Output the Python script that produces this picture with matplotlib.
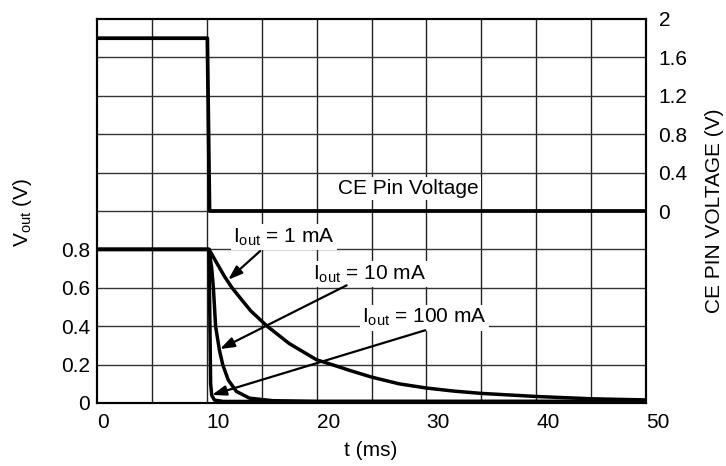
import numpy as np
import matplotlib
matplotlib.use("Agg")
import matplotlib.pyplot as plt

plt.rcParams['font.family'] = ['Liberation Sans', 'DejaVu Sans']
plt.rcParams['mathtext.default'] = 'regular'

# ---- data ----
t_1mA = [0, 10.2, 10.6, 11.0, 11.6, 12.3, 13.0, 14.0, 15.5, 17.5, 20.0, 21.4, 23.0,
         25.0, 27.5, 30.0, 32.5, 35.0, 37.5, 40.0, 45.0, 50.0]
v_1mA = [0.80, 0.80, 0.76, 0.72, 0.66, 0.60, 0.55, 0.48, 0.40, 0.31, 0.225, 0.20, 0.17,
         0.135, 0.10, 0.078, 0.062, 0.05, 0.042, 0.034, 0.022, 0.016]

t_10mA = [0, 10.2, 10.45, 10.6, 10.8, 11.15, 11.45, 11.95, 12.7, 13.9, 16.0, 20.0, 50.0]
v_10mA = [0.80, 0.80, 0.70, 0.60, 0.40, 0.275, 0.20, 0.12, 0.06, 0.025, 0.012, 0.008, 0.008]

t_100mA = [0, 10.2, 10.35, 10.45, 10.7, 11.5, 50.0]
v_100mA = [0.80, 0.80, 0.10, 0.04, 0.015, 0.008, 0.008]

t_ce = [0, 10.05, 10.25, 50.0]
v_ce = [1.8, 1.8, 0.0, 0.0]

x_ticks = [0, 10, 20, 30, 40, 50]
left_ticks = [0, 0.2, 0.4, 0.6, 0.8]
left_tick_labels = ['0', '0.2', '0.4', '0.6', '0.8']
right_ticks = [0, 0.4, 0.8, 1.2, 1.6, 2.0]
right_tick_labels = ['0', '0.4', '0.8', '1.2', '1.6', '2']

labels = ['I$_{out}$ = 1 mA', 'I$_{out}$ = 10 mA', 'I$_{out}$ = 100 mA']
label_pos = [(12.4, 0.836), (19.67, 0.644), (24.13, 0.416)]
arrow_tail = [(14.85, 0.791), (22.74, 0.613), (29.9, 0.379)]
arrow_tip = [(11.95, 0.642), (11.2, 0.281), (10.47, 0.042)]

FS = 15

fig = plt.figure(figsize=(7.26, 4.66), dpi=100)
ax = fig.add_axes([97/726, 1-403/466, (646-97)/726, (403-19)/466])
ax2 = ax.twinx()

ax.set_xlim(0, 50)
ax.set_ylim(0, 2.0)
ax2.set_ylim(-2.0, 2.0)

# grid lines (every 5 ms and every division)
for gx in np.arange(5, 50, 5):
    ax.axvline(gx, color='#222222', lw=1.0, zorder=1)
for gy in np.arange(0.2, 2.0, 0.2):
    ax.axhline(gy, color='#333333', lw=1.0, zorder=1)

ax.set_xticks(x_ticks)
ax.set_xticklabels([str(v) for v in x_ticks], ha='left')
ax.set_yticks(left_ticks)
ax.set_yticklabels(left_tick_labels)
ax2.set_yticks(right_ticks)
ax2.set_yticklabels(right_tick_labels)
ax.tick_params(which='both', length=0, labelsize=FS)
ax.tick_params(axis='x', pad=7)
ax.tick_params(axis='y', pad=5)
ax2.tick_params(length=0, labelsize=FS, pad=9)

for sp in list(ax.spines.values()) + list(ax2.spines.values()):
    sp.set_linewidth(1.5)
    sp.set_color('black')

ax2.set_zorder(ax.get_zorder() + 1)
ax2.patch.set_visible(False)

ax.plot(t_1mA, v_1mA, color='black', lw=2.5, zorder=3, solid_joinstyle='round')
ax.plot(t_10mA, v_10mA, color='black', lw=2.5, zorder=3, solid_joinstyle='round')
ax.plot(t_100mA, v_100mA, color='black', lw=2.5, zorder=3, solid_joinstyle='round')
ax2.plot(t_ce, v_ce, color='black', lw=2.7, zorder=3)

box = dict(facecolor='white', edgecolor='none', pad=1.5)
for lab, pos in zip(labels, label_pos):
    ax2.text(pos[0], pos[1], lab, transform=ax.transData, fontsize=FS,
             ha='left', va='baseline', bbox=box, zorder=5)
ax2.text(21.95, 1.088, 'CE Pin Voltage', transform=ax.transData, fontsize=FS,
         ha='left', va='baseline', bbox=box, zorder=5)

for tail, tip in zip(arrow_tail, arrow_tip):
    ax2.annotate('', xy=tip, xytext=tail, xycoords=ax.transData, textcoords=ax.transData,
                 arrowprops=dict(arrowstyle='-|>,head_length=0.85,head_width=0.3',
                                 color='black', lw=1.6, shrinkA=0, shrinkB=0,
                                 mutation_scale=10), zorder=6)

fig.text(23/726, 1-212/466, 'V$_{out}$ (V)', rotation=90, ha='center', va='center', fontsize=FS)
fig.text(715/726, 1-211/466, 'CE PIN VOLTAGE (V)', rotation=90, ha='center', va='center', fontsize=FS)
fig.text(371/726, 1-450/466, 't (ms)', ha='center', va='center', fontsize=FS)

fig.savefig('out.png', dpi=100)
